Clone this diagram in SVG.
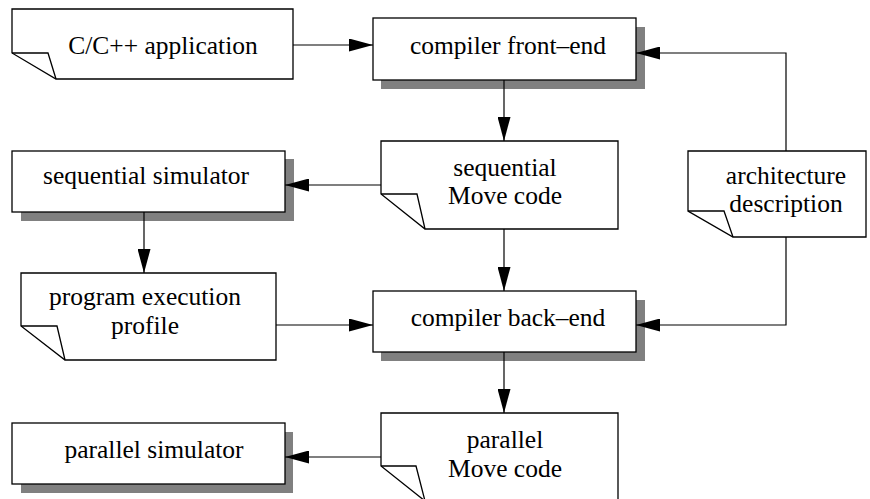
<svg xmlns="http://www.w3.org/2000/svg" width="870" height="499" viewBox="0 0 870 499">
  <style>
    .box { fill: #ffffff; stroke: #000000; stroke-width: 1.3; }
    .shadow { fill: #808080; stroke: none; }
    .fold { fill: none; stroke: #000000; stroke-width: 1.3; }
    .edge { fill: none; stroke: #000000; stroke-width: 1.2; marker-end: url(#head); }
    .lbl { font-family: 'Liberation Serif', 'DejaVu Serif', serif; font-size: 25.5px; fill: #000000; text-anchor: middle; }
  </style>
  <defs>
    <marker id="head" markerUnits="userSpaceOnUse" markerWidth="24" markerHeight="13" refX="24" refY="6.5" orient="auto">
      <path d="M0,0 L24,6.5 L0,13 Z" fill="#000000"/>
    </marker>
  </defs>

  <!-- documents: box with a folded lower-left corner -->
  <g id="app">
    <path class="box" d="M12,9 H293 V79 H56 L12,53 Z"/>
    <path class="fold" d="M12,53 H48 L56,79"/>
    <text class="lbl" x="163" y="54">C/C++ application</text>
  </g>

  <g id="frontend">
    <rect class="shadow" x="381" y="27" width="264" height="62"/>
    <rect class="box" x="373" y="18" width="263" height="62"/>
    <text class="lbl" x="508" y="54">compiler front–end</text>
  </g>

  <g id="seqsim">
    <rect class="shadow" x="21" y="159" width="273" height="62"/>
    <rect class="box" x="12" y="151" width="273" height="61"/>
    <text class="lbl" x="146" y="184">sequential simulator</text>
  </g>

  <g id="seqmove">
    <path class="box" d="M381,141 H618 V229 H425 L381,194 Z"/>
    <path class="fold" d="M381,194 H417 L425,229"/>
    <text class="lbl" x="505" y="176">sequential</text>
    <text class="lbl" x="505" y="204">Move code</text>
  </g>

  <g id="arch">
    <path class="box" d="M688,151 H866 V237 H733 L688,211 Z"/>
    <path class="fold" d="M688,211 H724 L733,237"/>
    <text class="lbl" x="786" y="184">architecture</text>
    <text class="lbl" x="786" y="212">description</text>
  </g>

  <g id="profile">
    <path class="box" d="M21,273 H276 V360 H65 L21,326 Z"/>
    <path class="fold" d="M21,326 H57 L65,360"/>
    <text class="lbl" x="145" y="305">program execution</text>
    <text class="lbl" x="145" y="334">profile</text>
  </g>

  <g id="backend">
    <rect class="shadow" x="381" y="300" width="264" height="61"/>
    <rect class="box" x="373" y="291" width="263" height="61"/>
    <text class="lbl" x="508" y="326">compiler back–end</text>
  </g>

  <g id="parsim">
    <rect class="shadow" x="21" y="432" width="272" height="61"/>
    <rect class="box" x="12" y="423" width="273" height="61"/>
    <text class="lbl" x="154" y="458">parallel simulator</text>
  </g>

  <g id="parmove">
    <path class="box" d="M381,413 H618 V501 H425 L381,466 Z"/>
    <path class="fold" d="M381,466 H416 L425,501"/>
    <text class="lbl" x="505" y="448">parallel</text>
    <text class="lbl" x="505" y="477">Move code</text>
  </g>

  <!-- data flow -->
  <g id="connectors">
    <path class="edge" d="M293,45 H373"/>
    <path class="edge" d="M786,151 V53 H636"/>
    <path class="edge" d="M504,80 V141"/>
    <path class="edge" d="M381,185 H285"/>
    <path class="edge" d="M144,212 V273"/>
    <path class="edge" d="M504,229 V291"/>
    <path class="edge" d="M276,325 H373"/>
    <path class="edge" d="M786,237 V325 H636"/>
    <path class="edge" d="M504,352 V413"/>
    <path class="edge" d="M381,457 H285"/>
  </g>
</svg>
